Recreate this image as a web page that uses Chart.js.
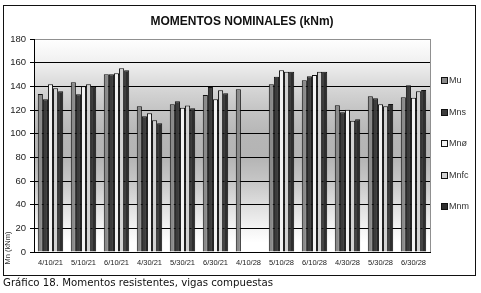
<!DOCTYPE html>
<html><head><meta charset="utf-8">
<script src="https://cdn.jsdelivr.net/npm/chart.js@4.4.1/dist/chart.umd.min.js"></script>
<style>
html,body{margin:0;padding:0;background:#fff;}
#wrap{position:relative;width:481px;height:293px;overflow:hidden;font-family:'Liberation Sans',Arial,sans-serif;color:#222;}
#c{position:absolute;left:0;top:0;}
#frame{position:absolute;left:3px;top:5px;width:471px;height:269px;border:1px solid #111;pointer-events:none;}
#title{position:absolute;left:0;width:484px;top:14px;text-align:center;font-weight:bold;font-size:12px;line-height:14px;color:#111;white-space:nowrap;}
#ylab{position:absolute;left:7px;top:248px;transform:translate(-50%,-50%) rotate(-90deg);font-size:7.5px;white-space:nowrap;color:#333;}
.lg{position:absolute;left:441px;height:10px;font-size:9px;line-height:10px;white-space:nowrap;color:#333;}
.lg i{position:absolute;left:0;top:2px;width:5px;height:5px;border:1px solid #111;}
.lg span{position:absolute;left:8px;top:0;}
#caption{position:absolute;left:3px;top:276px;font-size:10.2px;line-height:14px;white-space:nowrap;color:#111;font-family:'DejaVu Sans',sans-serif;}
</style></head>
<body><div id="wrap">
<canvas id="c" width="481" height="293"></canvas>
<div id="frame"></div>
<div id="title">MOMENTOS NOMINALES (kNm)</div>
<div id="ylab">Mn (kNm)</div>
<div id="legend"></div>
<div id="caption">Gráfico 18. Momentos resistentes, vigas compuestas</div>
</div>
<script>
const categories = ['4/10/21','5/10/21','6/10/21','4/30/21','5/30/21','6/30/21','4/10/28','5/10/28','6/10/28','4/30/28','5/30/28','6/30/28'];
const seriesNames = ['Mu','Mns','Mnø','Mnfc','Mnm'];
const Mu   = [133.5, 143.4, 150.2, 123.1, 124.8, 132.7, 137.5, 141.7, 145.1, 124.0, 131.6, 130.7];
const Mns  = [129.0, 133.3, 150.2, 114.7, 127.4, 139.5, null, 148.2, 148.5, 118.0, 129.9, 140.9];
const Mno  = [141.7, 140.0, 151.0, 117.2, 122.0, 129.0, null, 153.5, 149.6, 120.3, 124.8, 130.4];
const Mnfc = [138.3, 141.7, 155.2, 111.3, 123.7, 136.7, null, 152.4, 152.4, 111.0, 123.1, 135.8];
const Mnm  = [135.8, 139.7, 153.5, 108.8, 121.4, 134.1, null, 152.4, 152.4, 112.1, 125.1, 136.9];
const yTicks = [0,20,40,60,80,100,120,140,160,180];
const colors = ['#8a8a8a','#3c3c3c','#f2f2f2','#d2d2d2','#2e2e2e'];

const values = [Mu, Mns, Mno, Mnfc, Mnm];

// HTML legend
const legendTops = [80, 111.5, 143, 174.5, 206];
const lg = document.getElementById('legend');
seriesNames.forEach((n,i)=>{
  const d = document.createElement('div');
  d.className='lg';
  d.style.top = (legendTops[i]-5)+'px';
  d.innerHTML = '<i style="background:'+colors[i]+'"></i><span>'+n+'</span>';
  lg.appendChild(d);
});

const bgPlugin = {
  id:'bg',
  beforeDraw(chart){
    const {ctx, chartArea:a, scales:{y}} = chart;
    const g = ctx.createLinearGradient(0, a.top, 0, a.bottom);
    const stops = [[180,'#ffffff'],[160,'#f0f0f0'],[140,'#d8d8d8'],[120,'#c4c4c4'],[100,'#b6b6b6'],[80,'#b4b4b4'],[60,'#c6c6c6'],[40,'#dedede'],[20,'#f4f4f4'],[8,'#ffffff'],[0,'#ffffff']];
    stops.forEach(([v,c])=>g.addColorStop((y.getPixelForValue(v)-a.top)/(a.bottom-a.top), c));
    ctx.save();
    ctx.fillStyle = g;
    ctx.fillRect(a.left, a.top, a.right-a.left, a.bottom-a.top);
    ctx.restore();
  },
  beforeDatasetsDraw(chart){
    const {ctx, chartArea:a} = chart;
    ctx.save();
    ctx.strokeStyle = '#909090';
    ctx.lineWidth = 1;
    ctx.beginPath();
    ctx.moveTo(Math.round(a.right)+0.5, a.top);
    ctx.lineTo(Math.round(a.right)+0.5, a.bottom);
    ctx.stroke();
    ctx.restore();
  }
};

new Chart(document.getElementById('c'), {
  type:'bar',
  data:{
    labels: categories,
    datasets: seriesNames.map((n,i)=>({
      label:n, data:values[i], backgroundColor:colors[i], borderColor:'#111', borderWidth:1,
      categoryPercentage:0.77, barPercentage:1.0
    }))
  },
  options:{
    responsive:false, animation:false, devicePixelRatio:1,
    layout:{padding:{left:0,right:51,top:39,bottom:0}},
    plugins:{legend:{display:false}, title:{display:false}, tooltip:{enabled:false}},
    scales:{
      x:{
        grid:{display:false, drawTicks:false},
        border:{color:'#000', width:1},
        ticks:{font:{size:7.5, family:'Liberation Sans'}, color:'#222', padding:6, maxRotation:0, autoSkip:false},
        afterFit(s){ s.height = 41; }
      },
      y:{
        min:0, max:180,
        afterBuildTicks(s){ s.ticks = yTicks.map(v=>({value:v})); },
        ticks:{font:{size:9.5, family:'Liberation Sans'}, color:'#222', padding:4},
        grid:{color:(c)=>c.tick && c.tick.value===180 ? '#909090' : '#000', tickColor:'#000', tickLength:4, lineWidth:1},
        border:{color:'#000', width:1},
        afterFit(s){ s.width = 34; }
      }
    }
  },
  plugins:[bgPlugin]
});
</script>
</body></html>
